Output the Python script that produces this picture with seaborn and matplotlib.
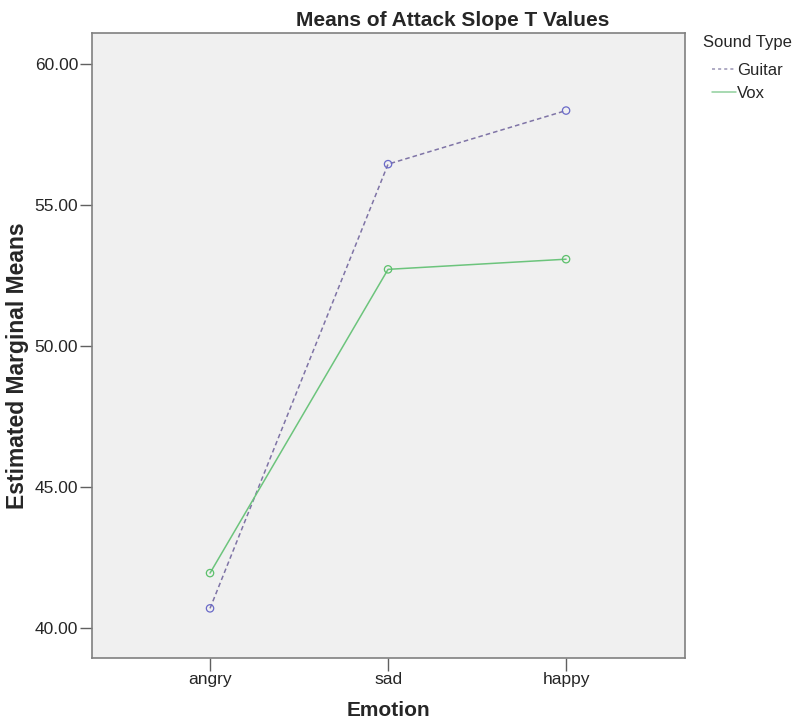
import matplotlib
matplotlib.use("Agg")
import matplotlib.pyplot as plt
import seaborn as sns
import pandas as pd
from matplotlib.lines import Line2D

emotions = ["angry", "sad", "happy"]
guitar = [40.70, 56.45, 58.35]
vox = [41.95, 52.72, 53.08]
series_names = ["Guitar", "Vox"]
yticks = [40.0, 45.0, 50.0, 55.0, 60.0]

df = pd.DataFrame({
    "Emotion": emotions * 2,
    "Mean": guitar + vox,
    "Sound Type": [series_names[0]] * 3 + [series_names[1]] * 3,
})

sns.set_style("white")
plt.rcParams["font.family"] = ["Liberation Sans", "DejaVu Sans"]

colors = {"Guitar": "#7f74a6", "Vox": "#6cc47c"}
marker_colors = {"Guitar": "#6a6ac8", "Vox": "#5cc06c"}

fig = plt.figure(figsize=(7.94, 7.19), dpi=100)
ax = fig.add_axes([92 / 794, 61 / 719, (685 - 92) / 794, (658 - 33) / 719])
ax.set_facecolor("#f0f0f0")

sns.lineplot(data=df, x="Emotion", y="Mean", hue="Sound Type", style="Sound Type",
             palette=colors, dashes={"Guitar": (3, 2), "Vox": ""},
             markers=False, linewidth=1.1, legend=False, ax=ax, sort=False)

x_idx = list(range(len(emotions)))
for name, vals in (("Guitar", guitar), ("Vox", vox)):
    ax.scatter(x_idx, vals, s=28, facecolors="none",
               edgecolors=marker_colors[name], linewidths=0.9, zorder=3)

ax.set_xlim(-0.663, 2.668)
ax.set_ylim(38.94, 61.10)
ax.set_xticks(x_idx)
ax.set_xticklabels(emotions, fontsize=12.5)
ax.set_yticks(yticks)
ax.set_yticklabels([f"{v:.2f}" for v in yticks], fontsize=12.5)
ax.tick_params(bottom=True, left=True, direction="out", length=9, width=1,
               color="#606060", pad=1)
for s in ax.spines.values():
    s.set_color("#808080")
    s.set_linewidth(1.2)

ax.set_xlabel("")
ax.set_ylabel("")
fig.text(388 / 794, 1 - 710 / 719, "Emotion", ha="center", va="center",
         fontsize=15, fontweight="bold")
fig.text(18 / 794, 1 - 366 / 719, "Estimated Marginal Means", ha="center",
         va="center", rotation=90, fontsize=16.5, fontweight="bold")

fig.text(453 / 794, 1 - 20 / 719, "Means of Attack Slope T Values",
         ha="center", va="center", fontsize=15, fontweight="bold")

# legend: title text, then indented entries below it
fig.text(703 / 794, 1 - 42 / 719, "Sound Type", ha="left", va="center",
         fontsize=12)
handles = [
    Line2D([0], [0], color="#9a94b4", linestyle=(0, (2, 2)), linewidth=1.1),
    Line2D([0], [0], color="#8fd09c", linestyle="-", linewidth=1.1),
]
leg = fig.legend(handles, series_names, loc="upper left",
                 bbox_to_anchor=(712 / 794, 1 - 63 / 719), frameon=False,
                 fontsize=12, handlelength=1.45, handletextpad=0.05,
                 labelspacing=0.45, borderpad=0, borderaxespad=0)

fig.savefig("out.png", dpi=100)
